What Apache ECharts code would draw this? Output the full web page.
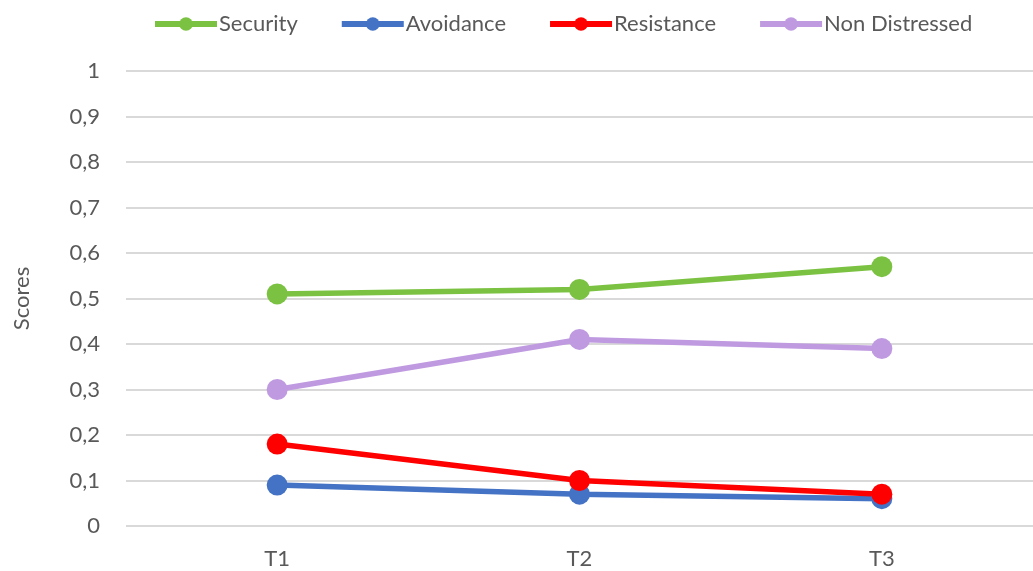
<!DOCTYPE html>
<html>
<head>
<meta charset="utf-8">
<script src="https://cdn.jsdelivr.net/npm/echarts@6/dist/echarts.min.js"></script>
<style>
  html, body { margin: 0; padding: 0; background: #fff; }
  #chart { width: 1033px; height: 571px; }
</style>
</head>
<body>
<div id="chart"></div>
<script>
// Time points and score series
const categories = ['T1', 'T2', 'T3'];
const security = [0.51, 0.52, 0.57];
const avoidance = [0.09, 0.07, 0.06];
const resistance = [0.18, 0.10, 0.07];
const nonDistressed = [0.30, 0.41, 0.39];
const yTicks = [0, 0.1, 0.2, 0.3, 0.4, 0.5, 0.6, 0.7, 0.8, 0.9, 1];

const FONT = 'Lato, "Open Sans", sans-serif';
const TEXT = '#595959';

function lineSeries(name, data, color) {
  return {
    name: name,
    type: 'line',
    data: data,
    symbol: 'circle',
    symbolSize: 21,
    lineStyle: { color: color, width: 5.5 },
    itemStyle: { color: color },
    emphasis: { disabled: true }
  };
}

const chart = echarts.init(document.getElementById('chart'), null, { renderer: 'canvas' });
chart.setOption({
  animation: false,
  backgroundColor: '#ffffff',
  legend: {
    top: 8,
    left: 147,
    itemWidth: 62,
    itemHeight: 17,
    itemGap: 41,
    lineStyle: { width: 6 },
    textStyle: { fontFamily: FONT, fontSize: 22, color: TEXT, padding: [0, 0, 0, -3] },
    data: ['Security', 'Avoidance', 'Resistance', 'Non Distressed']
  },
  grid: { left: 126, right: -5, top: 71, bottom: 45 },
  xAxis: {
    type: 'category',
    data: categories,
    boundaryGap: true,
    axisLine: { show: false },
    axisTick: { show: false },
    axisLabel: { fontFamily: FONT, fontSize: 22, color: TEXT, margin: 22 }
  },
  yAxis: {
    type: 'value',
    min: yTicks[0],
    max: yTicks[yTicks.length - 1],
    interval: 0.1,
    name: 'Scores',
    nameLocation: 'middle',
    nameGap: 93,
    nameTextStyle: { fontFamily: FONT, fontSize: 22, color: TEXT },
    axisLine: { show: false },
    axisTick: { show: false },
    splitLine: { lineStyle: { color: '#d9d9d9', width: 2 } },
    axisLabel: {
      fontFamily: FONT, fontSize: 22, color: TEXT, margin: 26,
      formatter: v => String(Math.round(v * 10) / 10).replace('.', ',')
    }
  },
  series: [
    lineSeries('Security', security, '#7cc242'),
    lineSeries('Avoidance', avoidance, '#4472c4'),
    lineSeries('Resistance', resistance, '#ff0000'),
    lineSeries('Non Distressed', nonDistressed, '#bf9ae0')
  ]
});
</script>
</body>
</html>
